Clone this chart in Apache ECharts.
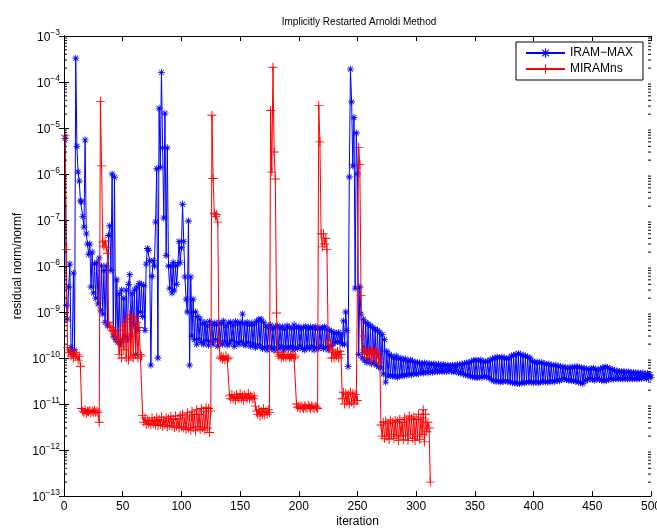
<!DOCTYPE html>
<html>
<head>
<meta charset="utf-8">
<script src="https://cdn.jsdelivr.net/npm/echarts/dist/echarts.min.js"></script>
<style>html,body{margin:0;padding:0;background:#fff;}#c{width:657px;height:532px;}</style>
</head>
<body>
<div id="c"></div>
<script>
// ---- data (iteration k = index + 1) ----
const chartTitle = 'Implicitly Restarted Arnoldi Method';
const seriesNames = ['IRAM\u2212MAX', 'MIRAMns'];
const xTicks = [0, 50, 100, 150, 200, 250, 300, 350, 400, 450, 500];
const yTickExponents = [-13, -12, -11, -10, -9, -8, -7, -6, -5, -4, -3];

const iramMax = [
6e-6,1.4e-9,7e-10,3.5e-9,1.1e-8,1.7e-10,1.3e-10,7e-9,1.5e-10,3.3e-4,
4e-6,1.1e-6,7e-7,2.6e-7,2.5e-7,1.2e-7,7e-8,5.5e-6,5e-8,3e-8,
1.8e-8,3e-8,3.5e-9,2e-8,2.6e-9,1.1e-8,2e-9,1.2e-8,1.5e-9,1.5e-8,
1.1e-9,1e-8,9e-10,8e-9,6e-10,1e-8,5e-10,4.6e-8,7.5e-8,8e-9,
1e-6,3e-10,8.5e-7,2.5e-10,5e-9,2.2e-10,2.5e-9,2e-10,3e-9,2.5e-10,
2e-9,3e-10,3e-9,2.5e-10,4e-9,6.5e-9,3e-10,2.5e-9,5e-10,3e-9,
1.2e-10,3.5e-9,4e-10,4.2e-9,1e-9,4e-9,8e-10,3.8e-9,4e-10,1.1e-8,
2.4e-8,2.2e-8,1.3e-8,7e-11,6e-9,1.3e-8,1e-8,9e-8,1.3e-6,1e-10,
2.7e-5,1.4e-6,1.6e-4,3.7e-6,1.1e-7,2.1e-5,1.7e-8,3.7e-6,1e-8,3.3e-9,
1e-8,2.6e-9,1.2e-8,3e-9,1e-8,4e-9,1.1e-8,3.4e-8,1.2e-8,2.5e-8,
2.2e-7,3.4e-8,5.8e-9,1.9e-9,1e-9,9.5e-8,7e-11,5.8e-9,3e-10,1.9e-9,
2.5e-10,1e-9,2e-10,8e-10,2.5e-10,7e-10,2.2e-10,5.5e-10,2e-10,6e-10,
2.4e-10,5e-10,1.9e-10,6.2e-10,2.3e-10,5.4e-10,2e-10,5.8e-10,2.5e-10,5.2e-10,
1.8e-10,6e-10,2.2e-10,5.6e-10,2e-10,6.4e-10,2.3e-10,5e-10,1.9e-10,5.8e-10,
2.1e-10,6e-10,2.4e-10,5.2e-10,1.8e-10,6.2e-10,2.2e-10,5.5e-10,2e-10,6e-10,
2.3e-10,9e-10,2e-10,5.6e-10,1.9e-10,6e-10,2.2e-10,5.2e-10,1.8e-10,5.8e-10,
2e-10,5.4e-10,1.7e-10,6.2e-10,1.9e-10,7e-10,1.8e-10,7e-10,1.6e-10,6e-10,
1.7e-10,5e-10,1.5e-10,4.6e-10,1.8e-10,5.2e-10,1.6e-10,4.4e-10,1.5e-10,4.8e-10,
1.7e-10,5e-10,1.6e-10,4.5e-10,1.8e-10,4.8e-10,1.5e-10,4.2e-10,1.7e-10,5e-10,
1.6e-10,4.6e-10,1.8e-10,4.4e-10,1.5e-10,5.2e-10,1.7e-10,4.5e-10,1.6e-10,4.8e-10,
1.8e-10,4.3e-10,1.6e-10,4.6e-10,1.5e-10,4.9e-10,1.7e-10,4.4e-10,1.6e-10,4.7e-10,
1.8e-10,4.5e-10,1.5e-10,4.8e-10,1.7e-10,4.2e-10,1.6e-10,4.6e-10,1.8e-10,4.4e-10,
1.6e-10,4.8e-10,1.7e-10,4.3e-10,1.5e-10,4e-10,1.8e-10,3.8e-10,2e-10,3.6e-10,
2.2e-10,3.4e-10,2.3e-10,3.6e-10,2.2e-10,3.2e-10,2e-10,6.4e-10,2e-10,1e-9,
4e-10,6.5e-11,8.6e-7,1.9e-4,3.7e-5,1.5e-6,1.7e-5,3.3e-9,7.8e-6,1e-6,
1.2e-10,3.5e-9,9e-10,1e-10,7e-10,9e-11,6e-10,8e-11,5.5e-10,9e-11,
5e-10,7.5e-11,4.6e-10,8e-11,4.2e-10,7e-11,4e-10,6.5e-11,3.6e-10,6e-11,
3.2e-10,4.5e-11,2.5e-10,3e-11,1.4e-10,4e-11,1.2e-10,4.2e-11,1.1e-10,4e-11,
1e-10,4e-11,1.1e-10,3.8e-11,9.5e-11,4.2e-11,1e-10,4e-11,9e-11,4.4e-11,
9.5e-11,4.2e-11,8.5e-11,4.5e-11,9e-11,4.3e-11,8.5e-11,4.6e-11,8e-11,4.5e-11,
8e-11,4.6e-11,7.8e-11,4.8e-11,7.5e-11,4.7e-11,7.8e-11,5e-11,7.4e-11,4.8e-11,
7.6e-11,5e-11,7.2e-11,4.9e-11,7.5e-11,5.1e-11,7e-11,5e-11,7.3e-11,5.2e-11,
7e-11,5e-11,7.2e-11,5.2e-11,6.8e-11,5.1e-11,7e-11,5.3e-11,6.8e-11,5.1e-11,
7e-11,5e-11,6.9e-11,5.1e-11,7.2e-11,4.8e-11,7e-11,4.7e-11,7.4e-11,4.5e-11,
7.6e-11,4.3e-11,7.8e-11,4.2e-11,8e-11,4e-11,8.5e-11,3.9e-11,8.8e-11,3.8e-11,
9e-11,3.7e-11,8.6e-11,3.9e-11,9e-11,3.8e-11,8.4e-11,4e-11,8.2e-11,3.9e-11,
8.5e-11,3.7e-11,9e-11,3.4e-11,9.5e-11,3.2e-11,1e-10,3.1e-11,1.05e-10,3.2e-11,
1e-10,3e-11,1.05e-10,3.1e-11,1e-10,3.2e-11,9.5e-11,3.1e-11,1e-10,3e-11,
1.1e-10,2.9e-11,1.15e-10,2.9e-11,1.2e-10,2.8e-11,1.25e-10,2.8e-11,1.2e-10,2.9e-11,
1.15e-10,2.9e-11,1.1e-10,3e-11,1.05e-10,3e-11,1e-10,3e-11,8.5e-11,2.9e-11,
8e-11,3e-11,8.2e-11,2.9e-11,7.8e-11,3e-11,8e-11,3.1e-11,7.6e-11,3e-11,
7.2e-11,3.1e-11,7.4e-11,3e-11,7e-11,3.2e-11,6.8e-11,3.1e-11,7e-11,3.3e-11,
6.6e-11,3.2e-11,6.5e-11,3.4e-11,6.4e-11,3.5e-11,6.2e-11,3.4e-11,6e-11,3.3e-11,
6.3e-11,3.2e-11,6.1e-11,3.3e-11,6.4e-11,3.1e-11,6.5e-11,3e-11,6.3e-11,2.9e-11,
6.1e-11,2.8e-11,6e-11,3.2e-11,5.8e-11,3.4e-11,5.6e-11,3.5e-11,5.9e-11,3.4e-11,
6e-11,3.3e-11,5.7e-11,3.5e-11,5.5e-11,3.4e-11,5.8e-11,3.3e-11,6.2e-11,3.2e-11,
6.4e-11,3.3e-11,6.2e-11,3.4e-11,5.9e-11,3.5e-11,5.6e-11,3.5e-11,5.4e-11,3.6e-11,
5.2e-11,3.5e-11,5.1e-11,3.6e-11,5e-11,3.5e-11,5.1e-11,3.6e-11,4.9e-11,3.5e-11,
5e-11,3.6e-11,4.8e-11,3.5e-11,4.9e-11,3.6e-11,4.7e-11,3.5e-11,4.8e-11,3.6e-11,
4.6e-11,3.6e-11,4.7e-11,3.7e-11,4.5e-11,3.6e-11,4.6e-11,3.7e-11,4.4e-11,3.8e-11
];

const miramNs = [
7e-6,2.3e-8,1.7e-10,1.3e-10,1.5e-10,1.1e-10,1.2e-10,1e-10,1.3e-10,1.1e-10,
1.2e-10,9e-11,1.1e-10,6.6e-11,8e-12,7e-12,6.5e-12,7.5e-12,6.2e-12,7e-12,
6.8e-12,7.2e-12,6.4e-12,7e-12,6.6e-12,7.3e-12,6.5e-12,7e-12,6.5e-12,4e-12,
3.8e-5,1.5e-6,3.3e-8,2.7e-8,3.5e-8,2.5e-8,1.9e-8,6e-10,5e-10,4.6e-10,
4e-10,3.8e-10,3.5e-10,3e-10,2.7e-10,2.4e-10,1.2e-10,4e-10,1e-10,5e-10,
1.5e-10,6e-10,1e-10,7e-10,9e-11,8.7e-10,1.1e-10,7e-10,1e-10,8e-10,
1.2e-10,6e-10,1e-10,4.6e-10,1.2e-10,1.1e-10,5.6e-12,4e-12,5e-12,3.6e-12,
4.5e-12,3.8e-12,4.2e-12,3.5e-12,5e-12,3.7e-12,4.4e-12,3.5e-12,5e-12,3.4e-12,
4.6e-12,3.6e-12,5.2e-12,3.3e-12,4.5e-12,3.5e-12,5e-12,3.2e-12,4.8e-12,3.4e-12,
5.4e-12,3.3e-12,4.6e-12,3.1e-12,5.5e-12,3.3e-12,4.8e-12,3e-12,5.6e-12,3.2e-12,
6e-12,3e-12,5e-12,2.8e-12,6.5e-12,3e-12,5.5e-12,2.7e-12,7e-12,3e-12,
6e-12,2.6e-12,7.5e-12,3.2e-12,6e-12,2.8e-12,8e-12,3e-12,7e-12,2.7e-12,
8.5e-12,3e-12,8e-12,2.4e-12,7e-12,1.9e-5,8e-7,1.4e-7,1.2e-7,1.3e-7,
9e-8,2.2e-10,1e-10,1.1e-10,9.5e-11,1.05e-10,9e-11,1.1e-10,9.5e-11,1e-10,
1.5e-11,1.3e-11,1.6e-11,1.3e-11,1.5e-11,1.2e-11,1.6e-11,1.4e-11,1.3e-11,1.7e-11,
1.3e-11,1.5e-11,1.2e-11,1.6e-11,1.4e-11,1.3e-11,1.7e-11,1.3e-11,1.5e-11,1.4e-11,
1.3e-11,1.5e-11,9e-12,7e-12,6e-12,7.5e-12,5.5e-12,7e-12,6e-12,8e-12,
5.8e-12,7e-12,6e-12,7.5e-12,6.5e-12,2.4e-5,1.1e-6,2.1e-4,3e-6,7.8e-7,
9.5e-10,1.3e-10,1.1e-10,1.2e-10,1e-10,1.15e-10,1.05e-10,1.2e-10,1e-10,1.1e-10,
1.2e-10,1e-10,1.1e-10,1.05e-10,1.2e-10,1e-10,1.1e-10,1e-11,8.5e-12,9e-12,
8e-12,9e-12,8.5e-12,8e-12,9e-12,8.5e-12,8e-12,9.5e-12,8.5e-12,8e-12,
9e-12,8.5e-12,8e-12,9e-12,8.5e-12,8e-12,3.1e-5,5e-6,5e-8,2.6e-8,
5e-8,3e-8,4e-8,2.3e-8,2.4e-10,1.6e-10,2e-10,1e-10,1.5e-10,1e-10,
1.3e-10,1.1e-10,1.4e-10,1e-10,1.4e-10,1.2e-10,1.3e-11,1.8e-11,1e-11,1.7e-11,
1.1e-11,1.6e-11,1e-11,1.8e-11,1.1e-11,1.7e-11,1e-11,1.6e-11,1.2e-11,1.2e-11,
3.8e-6,1.6e-6,2.3e-9,3e-10,1.5e-10,1.3e-10,1.5e-10,1e-10,1.4e-10,1.2e-10,
1.5e-10,9e-11,1.4e-10,1.3e-10,1.5e-10,1e-10,1.3e-10,8e-11,1e-10,3.5e-12,
2e-12,4e-12,1.8e-12,4.2e-12,2e-12,3.8e-12,1.7e-12,4.5e-12,2.2e-12,4e-12,
1.8e-12,4.4e-12,2e-12,4.2e-12,1.6e-12,4.6e-12,2.1e-12,4e-12,1.7e-12,5e-12,
2e-12,4.5e-12,1.6e-12,5.5e-12,2.2e-12,4.8e-12,1.8e-12,5.2e-12,1.6e-12,4.6e-12,
2e-12,6e-12,1.7e-12,5e-12,2.2e-12,7.5e-12,1.5e-12,6e-12,2.5e-12,4e-12,
3e-12,2e-13
];

// ---- chart ----
const FONT = '"Liberation Sans", Arial, Helvetica, sans-serif';
const starPath = 'path://M4.4,0H5.6V10H4.4ZM0,4.4H10V5.6H0ZM1.1,1.9L1.9,1.1L8.9,8.1L8.1,8.9ZM8.1,1.1L8.9,1.9L1.9,8.9L1.1,8.1Z';
const plusPath = 'path://M4.5,0H5.5V10H4.5ZM0,4.5H10V5.5H0Z';

const minorTickValues = [];
for (let e = -13; e < -3; e++) for (let k = 2; k <= 9; k++) minorTickValues.push([0, k * Math.pow(10, e)]);

const yLabel = v => {
  const e = Math.round(Math.log10(v));
  return '{b|10}{s|' + (e < 0 ? '\u2212' + Math.abs(e) : e) + '}';
};

const chart = echarts.init(document.getElementById('c'), null, { renderer: 'canvas' });
const axisLineStyle = { show: true, lineStyle: { color: '#000', width: 1 } };
chart.setOption({
  animation: false,
  backgroundColor: '#fff',
  textStyle: { fontFamily: FONT },
  title: {
    text: chartTitle, left: 354, top: 12, textAlign: 'center',
    textStyle: { fontFamily: FONT, fontSize: 10, fontWeight: 'normal', color: '#000' }
  },
  grid: { left: 64, right: 6, top: 36, bottom: 36, containLabel: false, outerBoundsMode: 'none' },
  legend: {
    data: seriesNames, orient: 'vertical', left: 516, top: 42,
    padding: [5, 10, 5, 9], itemGap: 4, itemWidth: 39, itemHeight: 12,
    borderColor: '#000', borderWidth: 1, backgroundColor: '#fff',
    textStyle: { fontFamily: FONT, fontSize: 12, color: '#000' }
  },
  xAxis: [{
    type: 'value', min: 0, max: 500, interval: 50, position: 'bottom',
    name: 'iteration', nameLocation: 'middle', nameGap: 20, nameMoveOverlap: false,
    nameTextStyle: { fontFamily: FONT, fontSize: 12, color: '#000' },
    axisLine: axisLineStyle,
    axisTick: { show: true, inside: true, length: 5, lineStyle: { color: '#000' } },
    axisLabel: { show: true, margin: 5, fontFamily: FONT, fontSize: 12, color: '#000',
      formatter: v => (xTicks.indexOf(v) >= 0 ? String(v) : '') },
    splitLine: { show: false }
  }, {
    type: 'value', min: 0, max: 500, interval: 50, position: 'top',
    axisLine: axisLineStyle,
    axisTick: { show: true, inside: true, length: 5, lineStyle: { color: '#000' } },
    axisLabel: { show: false }, splitLine: { show: false }
  }],
  yAxis: [{
    type: 'log', logBase: 10, min: 1e-13, max: 1e-3, interval: 1, position: 'left',
    name: 'residual norm/normf', nameLocation: 'middle', nameGap: 40, nameRotate: 90,
    nameMoveOverlap: false,
    nameTextStyle: { fontFamily: FONT, fontSize: 12, color: '#000' },
    axisLine: axisLineStyle,
    axisTick: { show: true, inside: true, length: 5, lineStyle: { color: '#000' } },
    axisLabel: {
      show: true, margin: 4, formatter: yLabel,
      rich: {
        b: { fontFamily: FONT, fontSize: 12, color: '#000', verticalAlign: 'bottom' },
        s: { fontFamily: FONT, fontSize: 8.5, color: '#000', verticalAlign: 'bottom', padding: [0, 0, 6, 0] }
      }
    },
    splitLine: { show: false }
  }, {
    type: 'log', logBase: 10, min: 1e-13, max: 1e-3, interval: 1, position: 'right',
    axisLine: axisLineStyle,
    axisTick: { show: true, inside: true, length: 5, lineStyle: { color: '#000' } },
    axisLabel: { show: false }, splitLine: { show: false }
  }],
  series: [
    {
      type: 'custom', name: 'minorTicks', silent: true, z: 10, clip: false,
      xAxisIndex: 0, yAxisIndex: 0,
      data: minorTickValues,
      encode: { x: 0, y: 1 },
      renderItem: (params, api) => {
        const v = api.value(1);
        const l = api.coord([0, v]);
        const r = api.coord([500, v]);
        return { type: 'group', children: [
          { type: 'line', shape: { x1: l[0], y1: l[1], x2: l[0] + 3, y2: l[1] }, style: { stroke: '#000', lineWidth: 1 } },
          { type: 'line', shape: { x1: r[0] - 3, y1: r[1], x2: r[0], y2: r[1] }, style: { stroke: '#000', lineWidth: 1 } }
        ] };
      }
    },
    {
      name: seriesNames[0], type: 'line', xAxisIndex: 0, yAxisIndex: 0,
      data: iramMax.map((v, i) => [i + 1, v]),
      symbol: starPath, symbolSize: 7, showSymbol: true,
      lineStyle: { color: '#0000ff', width: 1 },
      itemStyle: { color: '#0000ff' },
      emphasis: { disabled: true }, z: 2
    },
    {
      name: seriesNames[1], type: 'line', xAxisIndex: 0, yAxisIndex: 0,
      data: miramNs.map((v, i) => [i + 1, v]),
      symbol: plusPath, symbolSize: 9, showSymbol: true,
      lineStyle: { color: '#ff0000', width: 1 },
      itemStyle: { color: '#ff0000' },
      emphasis: { disabled: true }, z: 3
    }
  ]
});
</script>
</body>
</html>
